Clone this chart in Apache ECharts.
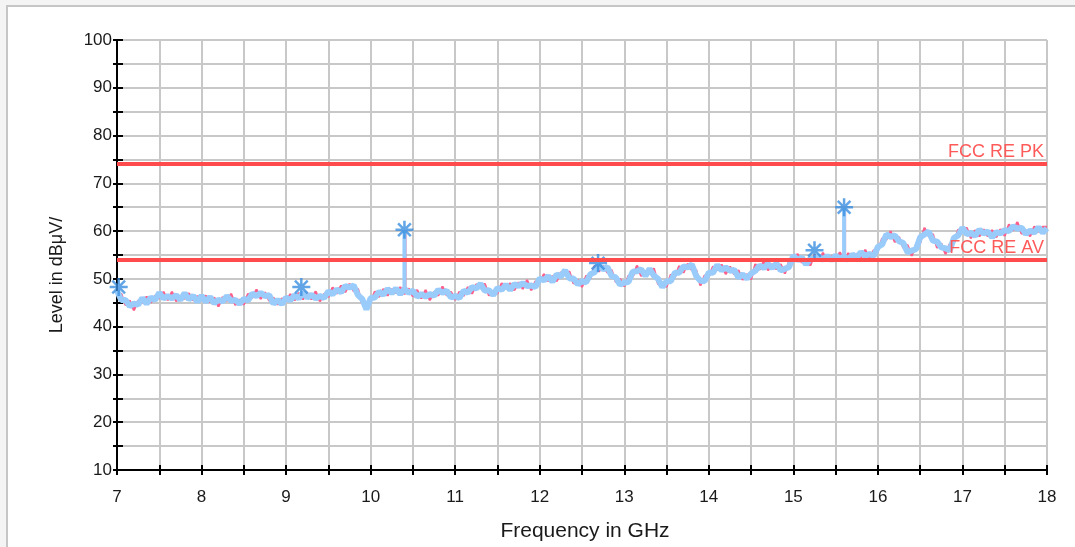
<!DOCTYPE html>
<html>
<head>
<meta charset="utf-8">
<script src="https://cdn.jsdelivr.net/npm/echarts@6/dist/echarts.min.js"></script>
<style>
  html, body { margin: 0; padding: 0; background: #f4f4f4; }
  #frame { position: absolute; left: 6px; top: 5px; width: 1200px; height: 700px;
           border-left: 2px solid #c6c6c6; border-top: 2px solid #c6c6c6; background: #ffffff; }
  #chart { position: absolute; left: 0; top: 0; width: 1075px; height: 547px; }
</style>
</head>
<body>
<div id="frame"></div>
<div id="chart"></div>
<script>
// Sweep grid: 7.00 .. 18.00 GHz in 0.05 GHz steps
const freqStart = 7.0;
const freqStep = 0.05;

// Average-detector trace (light blue), dBµV
const avgTrace = [
  47.5, 45.6, 45.6, 44.3, 44.8, 44.6, 46.0, 44.8, 46.1, 45.6, 47.1, 45.9, 46.4, 45.9, 46.6, 45.6, 47.0, 45.7, 46.5, 45.2,
  46.5, 45.2, 46.2, 44.9, 45.6, 45.3, 46.4, 45.4, 45.6, 44.8, 45.8, 45.5, 46.9, 46.4, 47.1, 46.4, 46.6, 44.8, 45.6, 44.7,
  46.1, 45.5, 46.6, 45.9, 47.1, 46.1, 46.7, 45.9, 46.4, 46.0, 47.4, 46.8, 47.8, 47.2, 48.5, 48.2, 48.6, 46.6, 45.8, 43.6,
  46.0, 46.1, 47.3, 46.7, 47.9, 47.0, 48.0, 46.8, 47.9, 47.1, 47.5, 46.3, 46.8, 46.3, 46.8, 46.5, 47.7, 47.1, 47.5, 46.1,
  46.4, 46.0, 47.5, 47.1, 48.3, 48.0, 49.0, 47.5, 47.6, 46.6, 48.1, 47.7, 48.8, 47.7, 48.9, 48.5, 49.1, 48.5, 48.6, 48.3,
  50.1, 49.7, 50.6, 49.4, 50.9, 50.5, 51.8, 50.1, 50.1, 48.9, 49.5, 49.3, 51.0, 51.4, 52.8, 52.0, 52.5, 50.6, 50.3, 48.8,
  49.2, 49.4, 51.5, 51.6, 52.0, 50.6, 52.1, 50.7, 50.0, 48.3, 49.5, 49.5, 51.3, 51.3, 52.6, 52.4, 53.0, 50.6, 49.6, 49.5,
  51.3, 51.3, 52.9, 51.8, 52.4, 51.7, 51.9, 50.3, 50.9, 50.1, 51.1, 51.7, 52.8, 52.3, 53.1, 52.3, 53.2, 51.8, 52.1, 52.5,
  54.9, 53.9, 54.5, 53.0, 54.2, 54.2, 54.7, 54.0, 54.8, 53.9, 54.9, 54.2, 54.7, 54.0, 55.1, 54.5, 55.6, 54.8, 55.2, 54.8,
  56.7, 57.2, 59.3, 58.8, 59.1, 57.9, 57.5, 55.6, 55.9, 56.2, 58.7, 59.3, 59.9, 58.0, 57.8, 56.6, 56.4, 56.0, 58.6, 59.1,
  60.7, 59.4, 59.6, 59.0, 60.3, 59.5, 59.9, 58.7, 59.8, 59.5, 60.2, 60.0, 61.0, 60.5, 60.7, 59.4, 60.1, 59.7, 60.8, 59.7,
  60.6
];

// Peak-detector trace (pink), dBµV
const peakTrace = [
  46.7, 46.9, 44.5, 45.5, 43.4, 45.5, 45.0, 46.3, 45.0, 46.5, 45.9, 47.3, 45.5, 47.3, 45.3, 46.4, 45.8, 47.0, 45.5, 46.4,
  45.7, 46.5, 45.1, 46.1, 44.2, 46.2, 45.4, 46.9, 44.5, 45.7, 44.6, 46.9, 46.0, 47.8, 45.8, 47.2, 45.4, 46.1, 44.6, 45.9,
  45.3, 46.8, 45.5, 47.1, 45.7, 47.0, 45.7, 47.4, 45.3, 46.9, 46.2, 48.2, 46.9, 48.6, 47.2, 49.0, 47.4, 47.9, 44.8, 44.8,
  45.2, 47.4, 46.2, 47.9, 46.5, 47.9, 47.0, 48.3, 46.8, 48.0, 46.3, 47.7, 45.9, 47.7, 45.5, 47.3, 46.5, 48.4, 46.5, 47.3,
  45.6, 47.3, 46.4, 48.3, 46.9, 48.9, 48.0, 49.0, 46.5, 47.5, 46.9, 49.1, 47.9, 49.1, 47.6, 49.3, 47.9, 49.8, 47.6, 49.5,
  49.3, 51.0, 49.5, 50.6, 49.5, 51.4, 50.8, 51.6, 49.0, 49.8, 48.3, 50.7, 50.1, 52.8, 51.5, 52.8, 51.3, 51.9, 49.3, 50.0,
  48.4, 50.7, 50.4, 52.8, 50.6, 51.5, 51.1, 52.2, 48.9, 49.2, 48.3, 50.9, 50.4, 52.7, 51.3, 53.2, 51.8, 51.9, 48.6, 50.7,
  50.5, 52.6, 51.8, 53.0, 51.0, 52.6, 50.9, 51.8, 49.8, 51.0, 49.9, 53.1, 51.9, 53.7, 51.8, 53.1, 52.0, 53.1, 51.1, 53.7,
  54.1, 55.2, 53.4, 54.2, 52.8, 55.1, 53.7, 55.5, 53.7, 54.8, 53.7, 55.6, 53.8, 55.4, 53.8, 55.3, 54.4, 56.1, 54.2, 56.0,
  55.9, 58.5, 58.2, 60.0, 57.7, 58.8, 56.5, 57.1, 54.8, 57.1, 57.5, 60.7, 59.0, 59.4, 56.5, 57.4, 55.2, 57.3, 57.6, 60.3,
  59.9, 60.7, 58.5, 60.2, 58.9, 60.4, 58.9, 60.2, 58.7, 60.4, 59.0, 61.4, 60.1, 61.9, 59.4, 60.2, 58.9, 61.0, 59.8, 60.9,
  60.9
];

// Narrow spurious emissions
const spikeFreqs  = [10.40, 15.60];
const spikeBase   = [47.6, 54.5];
const spikeTopAvg = [60.2, 64.8];
const spikeTopPk  = [59.6, 64.2];

// Marker (asterisk) positions
const markerFreqs  = [7.02, 9.18, 10.40, 12.69, 15.25, 15.60];
const markerLevels = [48.3, 48.3, 60.3, 53.3, 56.0, 65.0];

// Limit lines
const limitNames  = ['FCC RE PK', 'FCC RE AV'];
const limitValues = [74, 54];

const xTickLabels = [7, 8, 9, 10, 11, 12, 13, 14, 15, 16, 17, 18];
const yTickLabels = [10, 20, 30, 40, 50, 60, 70, 80, 90, 100];

const FONT = '"Liberation Sans", Arial, Helvetica, sans-serif';
const BLUE = '#99cbfb';
const PINK = '#fb5f8c';
const STAR = '#3a8fe0';
const RED = '#ff4b4b';

const toXY = arr => arr.map((v, i) => [+(freqStart + i * freqStep).toFixed(2), v]);

const series = [];
series.push({
  type: 'line', name: 'PK', data: toXY(peakTrace), showSymbol: false, silent: true,
  lineStyle: { color: PINK, width: 2.2 }, z: 2
});
spikeFreqs.forEach((f, i) => {
  series.push({
    type: 'line', data: [[f + 0.012, spikeBase[i]], [f + 0.012, spikeTopPk[i]]], showSymbol: false, silent: true,
    lineStyle: { color: PINK, width: 2 }, z: 2
  });
});
series.push({
  type: 'line', name: 'AV', data: toXY(avgTrace), showSymbol: false, silent: true,
  lineStyle: { color: BLUE, width: 6 }, z: 3,
  markLine: {
    silent: true, symbol: 'none', z: 10,
    lineStyle: { color: RED, width: 4, type: 'solid' },
    label: {
      position: 'insideEndTop', color: '#ff5a5a', fontSize: 18, fontFamily: FONT,
      distance: [3, 3], formatter: p => p.name
    },
    data: limitNames.map((n, i) => ({ name: n, yAxis: limitValues[i] }))
  }
});
spikeFreqs.forEach((f, i) => {
  series.push({
    type: 'line', data: [[f, spikeBase[i]], [f, spikeTopAvg[i]]], showSymbol: false, silent: true,
    lineStyle: { color: BLUE, width: 4 }, z: 3
  });
});
series.push({
  type: 'scatter', data: markerFreqs.map((f, i) => [f, markerLevels[i]]), silent: true,
  symbol: 'path://M0,-10L0,10M-10,0L10,0M-7.07,-7.07L7.07,7.07M-7.07,7.07L7.07,-7.07',
  symbolSize: 18,
  itemStyle: { color: 'rgba(0,0,0,0)', borderColor: STAR, borderWidth: 2.5 }, z: 5
});

const xBase = {
  type: 'value', min: 7, max: 18, interval: 0.5, gridIndex: 0, position: 'bottom'
};
const yBase = {
  type: 'value', min: 10, max: 100, interval: 5, gridIndex: 0, position: 'left'
};

const option = {
  animation: false,
  backgroundColor: 'transparent',
  grid: { left: 117, right: 28, top: 40, bottom: 77, containLabel: false },
  xAxis: [
    Object.assign({}, xBase, {
      axisLine: { show: true, onZero: false, lineStyle: { color: '#000', width: 2 } },
      axisTick: { show: true, inside: false, length: 5, lineStyle: { color: '#000', width: 2 } },
      axisLabel: {
        show: true, margin: 19, color: '#1a1a1a', fontSize: 17, fontFamily: FONT,
        formatter: v => (xTickLabels.indexOf(Math.round(v * 100) / 100) >= 0 ? String(v) : '')
      },
      splitLine: { show: true, lineStyle: { color: '#c8c8c8', width: 2 } }
    }),
    Object.assign({}, xBase, {
      axisLine: { show: false, onZero: false },
      axisTick: { show: true, inside: true, length: 5, lineStyle: { color: '#000', width: 2 } },
      axisLabel: { show: false }, splitLine: { show: false }
    })
  ],
  yAxis: [
    Object.assign({}, yBase, {
      axisLine: { show: true, onZero: false, lineStyle: { color: '#000', width: 2 } },
      axisTick: { show: true, inside: false, length: 4, lineStyle: { color: '#000', width: 2 } },
      axisLabel: {
        show: true, margin: 5, color: '#1a1a1a', fontSize: 17, fontFamily: FONT,
        formatter: v => (yTickLabels.indexOf(v) >= 0 ? String(v) : '')
      },
      splitLine: { show: true, lineStyle: { color: '#c8c8c8', width: 2 } }
    }),
    Object.assign({}, yBase, {
      axisLine: { show: false, onZero: false },
      axisTick: { show: true, inside: true, length: 6, lineStyle: { color: '#000', width: 2 } },
      axisLabel: { show: false }, splitLine: { show: false }
    })
  ],
  graphic: [
    {
      type: 'text', x: 57, y: 275, rotation: Math.PI / 2,
      style: { text: 'Level in dBμV/', fill: '#1a1a1a', font: '18px ' + FONT, align: 'center', verticalAlign: 'middle' }
    },
    {
      type: 'text', x: 585, y: 531,
      style: { text: 'Frequency in GHz', fill: '#1a1a1a', font: '21px ' + FONT, align: 'center', verticalAlign: 'middle' }
    }
  ],
  series: series
};

const chart = echarts.init(document.getElementById('chart'), null, { renderer: 'canvas' });
chart.setOption(option);
</script>
</body>
</html>
